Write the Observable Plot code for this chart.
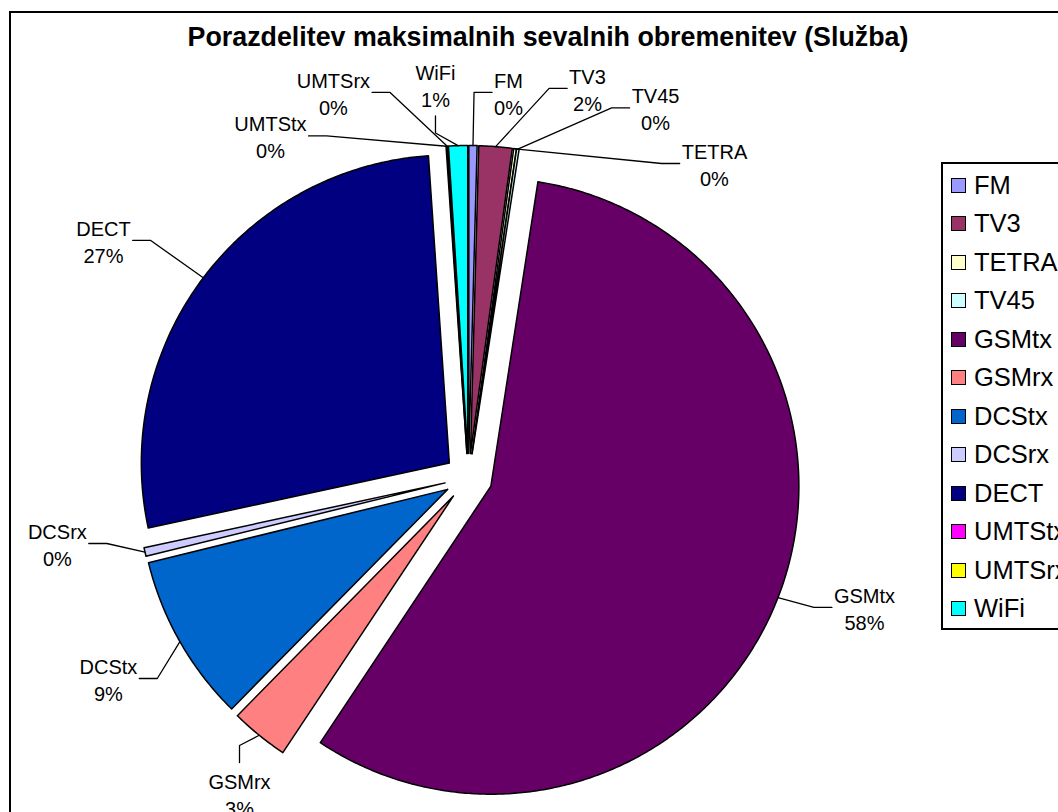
<!DOCTYPE html>
<html>
<head>
<meta charset="utf-8">
<script src="https://cdn.jsdelivr.net/npm/d3@7"></script>
<script src="https://cdn.jsdelivr.net/npm/@observablehq/plot@0.6"></script>
<style>
  html, body { margin: 0; padding: 0; background: #fff; width: 1058px; height: 812px; overflow: hidden; }
  body { position: relative; font-family: "Liberation Sans", Arial, sans-serif; }
  #title { margin: 0; width: 1096px; height: 28px; padding-top: 23px; line-height: 28px;
           font-size: 26.8px; font-weight: bold; text-align: center; color: #000; }
  #chart svg { display: block; }
  #frame { position: absolute; left: 9px; top: 11px; width: 1120px; height: 900px;
           border: 2px solid #000; box-sizing: border-box; pointer-events: none; }
  #legend { position: absolute; left: 941px; top: 162px; width: 200px; border: 2px solid #000;
            padding: 2px 0 0 8px; background: #fff; }
  .item { display: flex; align-items: center; height: 38.5px; font-size: 25.5px; color: #000; white-space: nowrap; }
  .sw { width: 13px; height: 13px; border: 1px solid #000; margin-right: 8px; flex: none; }
</style>
</head>
<body>
<div id="title"></div>
<div id="chart"></div>
<div id="legend"></div>
<div id="frame"></div>
<script>
// ---- data ----
const title = "Porazdelitev maksimalnih sevalnih obremenitev (Služba)";
const names = ["FM", "TV3", "TETRA", "TV45", "GSMtx", "GSMrx", "DCStx", "DCSrx", "DECT", "UMTStx", "UMTSrx", "WiFi"];
const shares = [0.43, 1.74, 0.14, 0.13, 56.9, 3.03, 8.8, 0.45, 27.3, 0.04, 0.04, 1.0];
const pctLabels = ["0%", "2%", "0%", "0%", "58%", "3%", "9%", "0%", "27%", "0%", "0%", "1%"];
const colors = ["#9999FF", "#993366", "#FFFFCC", "#CCFFFF", "#660066", "#FF8080", "#0066CC", "#CCCCFF", "#000080", "#FF00FF", "#FFFF00", "#00FFFF"];

// ---- layout (label placement in polar form around the pie centre, radius units) ----
const labelAngle = [5.93, 17.0, 38.07, 26.84, 108.17, 215.93, 240.83, 260.88, 303.0, 329.9, 340.67, 355.19];
const labelDist  = [1.257, 1.321, 1.295, 1.345, 1.353, 1.267, 1.339, 1.352, 1.413, 1.282, 1.325, 1.279];
const labelSide  = ["left", "left", "left", "left", "left", "top", "right", "right", "right", "right", "right", "bottom"];

const W = 1058, H = 761;          // svg size
const PX = 308;                   // pixels per radius unit
const CX = 468, CY = 426;         // pie centre in svg pixels
const EXPLODE = 24 / PX;
const FONT = 20, LINE = 1.35;

document.getElementById("title").textContent = title;

const pie = d3.pie().sort(null).value(d => d)(shares);

// slice polygons
const slicePts = [];
pie.forEach((p, i) => {
  const m = (p.startAngle + p.endAngle) / 2;
  const ox = EXPLODE * Math.sin(m), oy = EXPLODE * Math.cos(m);
  const name = names[i];
  slicePts.push({name, x: ox, y: oy});
  const span = p.endAngle - p.startAngle;
  const n = Math.max(2, Math.ceil(span / (Math.PI / 360)));
  for (let k = 0; k <= n; k++) {
    const a = p.startAngle + span * k / n;
    slicePts.push({name, x: ox + Math.sin(a), y: oy + Math.cos(a)});
  }
  slicePts.push({name, x: ox, y: oy});
});

// text measurement
const ctx = document.createElement("canvas").getContext("2d");
ctx.font = `${FONT}px "Liberation Sans", Arial, sans-serif`;

const labels = [];
const leaders = [];
pie.forEach((p, i) => {
  const m = (p.startAngle + p.endAngle) / 2;
  const ax = (1 + EXPLODE) * Math.sin(m), ay = (1 + EXPLODE) * Math.cos(m);
  const th = labelAngle[i] * Math.PI / 180;
  const lx = labelDist[i] * Math.sin(th), ly = labelDist[i] * Math.cos(th);
  const text = names[i] + "\n" + pctLabels[i];
  labels.push({x: lx, y: ly, text});
  const tw = Math.max(ctx.measureText(names[i]).width, ctx.measureText(pctLabels[i]).width);
  const hw = (tw / 2 + 2) / PX, E = 18 / PX, V = 31 / PX, EV = 17 / PX;
  let edge, elbow;
  switch (labelSide[i]) {
    case "left":   edge = [lx - hw, ly]; elbow = [lx - hw - E, ly]; break;
    case "right":  edge = [lx + hw, ly]; elbow = [lx + hw + E, ly]; break;
    case "top":    edge = [lx, ly + V];  elbow = [lx, ly + V + EV]; break;
    case "bottom": edge = [lx, ly - V];  elbow = [lx, ly - V - EV]; break;
  }
  const name = names[i];
  leaders.push({name, x: edge[0], y: edge[1]}, {name, x: elbow[0], y: elbow[1]}, {name, x: ax, y: ay});
});

const chart = Plot.plot({
  width: W, height: H, margin: 0,
  style: {fontFamily: '"Liberation Sans", Arial, sans-serif', background: "transparent"},
  x: {domain: [-CX / PX, (W - CX) / PX], axis: null},
  y: {domain: [-(H - CY) / PX, CY / PX], axis: null},
  color: {domain: names, range: colors},
  marks: [
    Plot.line(slicePts, {x: "x", y: "y", z: "name", fill: "name", stroke: "#000", strokeWidth: 1.5, strokeLinejoin: "round"}),
    Plot.line(leaders, {x: "x", y: "y", z: "name", stroke: "#000", strokeWidth: 1.3}),
    Plot.text(labels, {x: "x", y: "y", text: "text", fontSize: FONT, lineHeight: LINE, fill: "#000"})
  ]
});
document.getElementById("chart").appendChild(chart);

// legend
const legend = document.getElementById("legend");
names.forEach((n, i) => {
  const item = document.createElement("div");
  item.className = "item";
  const sw = document.createElement("span");
  sw.className = "sw";
  sw.style.background = colors[i];
  item.appendChild(sw);
  item.appendChild(document.createTextNode(n));
  legend.appendChild(item);
});
</script>
</body>
</html>
